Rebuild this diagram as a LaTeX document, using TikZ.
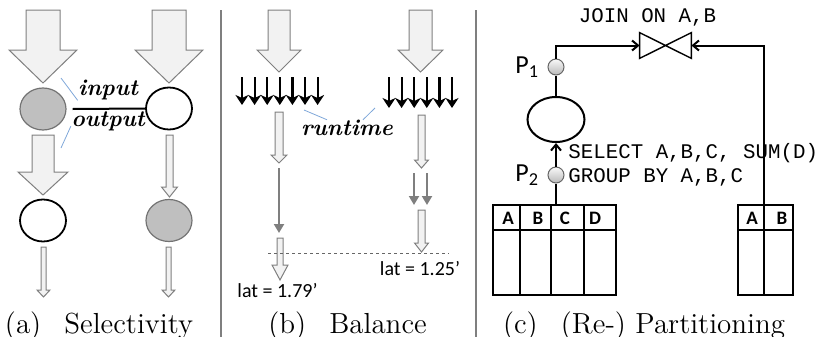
\documentclass[tikz,border=0pt]{standalone}
\usepackage{fontspec}
\usepackage{xcolor}
\usepackage{tikz}
\usetikzlibrary{arrows.meta, positioning, shapes.geometric}

\newfontfamily\calib{Carlito}
\newfontfamily\monof{Liberation Mono}

\definecolor{selgray}{HTML}{BFBFBF}
\definecolor{arrfill}{HTML}{F2F2F2}
\definecolor{arredge}{HTML}{7F7F7F}
\definecolor{notecol}{HTML}{7FA7D9}

% block arrow: centre x, top y, shaft half width, head half width, neck y, tip y
\newcommand{\fatarrow}[6]{%
  \draw[fatarr] ({#1-#3},#2) -- ({#1+#3},#2) -- ({#1+#3},#5) -- ({#1+#4},#5)
    -- (#1,#6) -- ({#1-#4},#5) -- ({#1-#3},#5) -- cycle;}

\begin{document}
\begin{tikzpicture}[
    x=0.5pt, y=-0.5pt,
    fatarr/.style={draw=arredge, fill=arrfill, line width=0.5pt, line join=miter},
    selop/.style={draw, ellipse, minimum width=23pt, minimum height=21pt, inner sep=0pt, line width=0.9pt, fill=white},
    grayop/.style={selop, fill=selgray, draw=black!55, line width=0.6pt},
    ratio/.style={font=\fontsize{11.5}{13}\selectfont\bfseries\itshape, inner sep=0pt},
    note/.style={draw=notecol, line width=0.4pt},
    sep/.style={draw=arredge, line width=1pt},
    caption/.style={font=\fontsize{14.5}{17}\selectfont, inner sep=0pt, anchor=base},
    task/.style={-{Stealth[length=5pt, width=6.5pt, inset=1.5pt]}, line width=1.1pt},
    slowarr/.style={-{Triangle[length=4.5pt, width=5pt]}, draw=arredge, line width=1pt},
    latlab/.style={font=\calib\fontsize{10}{12}\selectfont, inner sep=0pt},
    pnode/.style={circle, draw=black!60, line width=0.5pt, minimum size=8pt, inner sep=0pt, top color=gray!5, bottom color=gray!55},
    plab/.style={font=\calib\fontsize{13}{15}\selectfont, inner sep=0pt},
    aggop/.style={draw, ellipse, minimum width=28.5pt, minimum height=22.5pt, inner sep=0pt, line width=1pt},
    link/.style={line width=1pt},
    arrow/.style={-{Straight Barb[length=3pt, width=5pt]}, line width=1pt},
    sqltext/.style={font=\monof\fontsize{10.4}{12}\selectfont, inner sep=0pt},
    tab/.style={line width=1pt},
    collab/.style={font=\calib\bfseries\fontsize{9.5}{11}\selectfont, inner sep=0pt},
]
\useasboundingbox (0,0) rectangle (819,337);

% (a) Selectivity
\fatarrow{43}{10}{17}{34}{50}{83}
\fatarrow{169}{10}{17}{34}{50}{83}
\node[grayop] (a1) at (43,109) {};
\node[selop] (b1) at (169,108.5) {};
\fatarrow{43}{135}{11}{25}{172}{195}
\fatarrow{169.5}{135}{3.5}{8}{187}{197}
\node[selop] (a2) at (43,220.5) {};
\node[grayop] (b2) at (169,220.5) {};
\fatarrow{43.5}{247}{2.5}{6.5}{290}{297}
\fatarrow{168.5}{247}{2.5}{6.5}{290}{297}

% input / output
\draw[line width=1pt] ([xshift=3pt]a1.east) -- (b1.west);
\node[ratio] (in) at (108,90) {input};
\node[ratio] (out) at (108,121) {output};
\coordinate (inL) at (61,78);
\coordinate (outL) at (61,148);
\draw[note] (inL) -- (in.south west);
\draw[note] (outL) -- (out.base west);

\node[caption] (capa) at (99,333) {(a)\hspace{0.8em}Selectivity};

\draw[sep] (221,10) -- (221,337);

% (b) Balance
\fatarrow{279}{10}{11}{22}{50}{72}
\fatarrow{420.5}{10}{11.5}{22.5}{50}{72}
\foreach \i in {0,...,6}
  \draw[task] ({242+12.6*\i},77) -- ({242+12.6*\i},105);
\foreach \i in {0,...,5}
  \draw[task] ({389+12.6*\i},77) -- ({389+12.6*\i},108);

\node[ratio] (rt) at (347,128) {runtime};
\coordinate (rtL) at (304,110);
\coordinate (rtR) at (375,108);
\draw[note] (rtL) -- ([xshift=-10pt]rt.north);
\draw[note] (rtR) -- ([xshift=8pt]rt.north);

% slow side
\fatarrow{279}{112}{4}{8}{155}{163}
\draw[slowarr] (279,168) -- (279,233);
\fatarrow{280}{238}{3}{8}{265}{280}
% balanced side
\fatarrow{421.5}{115}{3.5}{7}{160}{168}
\foreach \x in {414,427}
  \draw[slowarr] (\x,173) -- (\x,205);
\fatarrow{421.5}{210}{3.5}{7}{243}{252}

\draw[dashed, dash pattern=on 1.5pt off 1.5pt, draw=black!60, line width=0.4pt] (268,253) -- (449,253);
\node[latlab] (lat1) at (277.5,291) {lat = 1.79’};
\node[latlab] (lat2) at (420,269) {lat = 1.25’};

\node[caption] (capb) at (347.5,333) {(b)\hspace{0.8em}Balance};

\draw[sep] (476,10) -- (476,337);

% (c) (Re-) Partitioning
\node[pnode] (p1) at (556,67) {};
\node[plab, left=4pt of p1] (p1lab) {P\textsubscript{1}};
\node[aggop] (agg) at (556,119.5) {};
\node[pnode] (p2) at (556,175) {};
\node[plab, left=4pt of p2] (p2lab) {P\textsubscript{2}};

% join operator
\node[minimum width=25.5pt, minimum height=12.5pt, inner sep=0pt] (join) at (665.5,45.5) {};
\draw[line width=0.7pt, line join=miter] (join.north west) -- (join.south east) -- (join.north east) -- (join.south west) -- cycle;
\node[sqltext, anchor=base] (jlab) at (647.5,23) {JOIN ON A,B};

% tables
\draw[tab] (493,205) rectangle (616,295);
\draw[tab] (493,230) -- (616,230);
\foreach \x in {520,551,584}
  \draw[tab] (\x,205) -- (\x,295);
\foreach \x/\c in {508/A,538/B,565/C,595/D}
  \node[collab] (l\c) at (\x,218) {\c};
\draw[tab] (738,205) rectangle (793,295);
\draw[tab] (738,230) -- (793,230);
\draw[tab] (764,205) -- (764,295);
\foreach \x/\c in {752/A,782/B}
  \node[collab] (r\c) at (\x,218) {\c};
\coordinate (ltop) at (556,205);
\coordinate (rtop) at (764,205);

% arrows
\draw[link] (ltop) -- (p2);
\draw[arrow] (p2) -- (agg);
\draw[link] (agg) -- (p1);
\draw[arrow] (p1) |- (join.west);
\draw[arrow] (rtop) |- (join.east);

\node[sqltext, anchor=base west] (sel) at (568,158) {SELECT A,B,C, SUM(D)};
\node[sqltext, anchor=base west] (grp) at (568,182) {GROUP BY A,B,C};

\node[caption] (capc) at (644,333) {(c)\hspace{0.8em}(Re-) Partitioning};

\end{tikzpicture}
\end{document}
